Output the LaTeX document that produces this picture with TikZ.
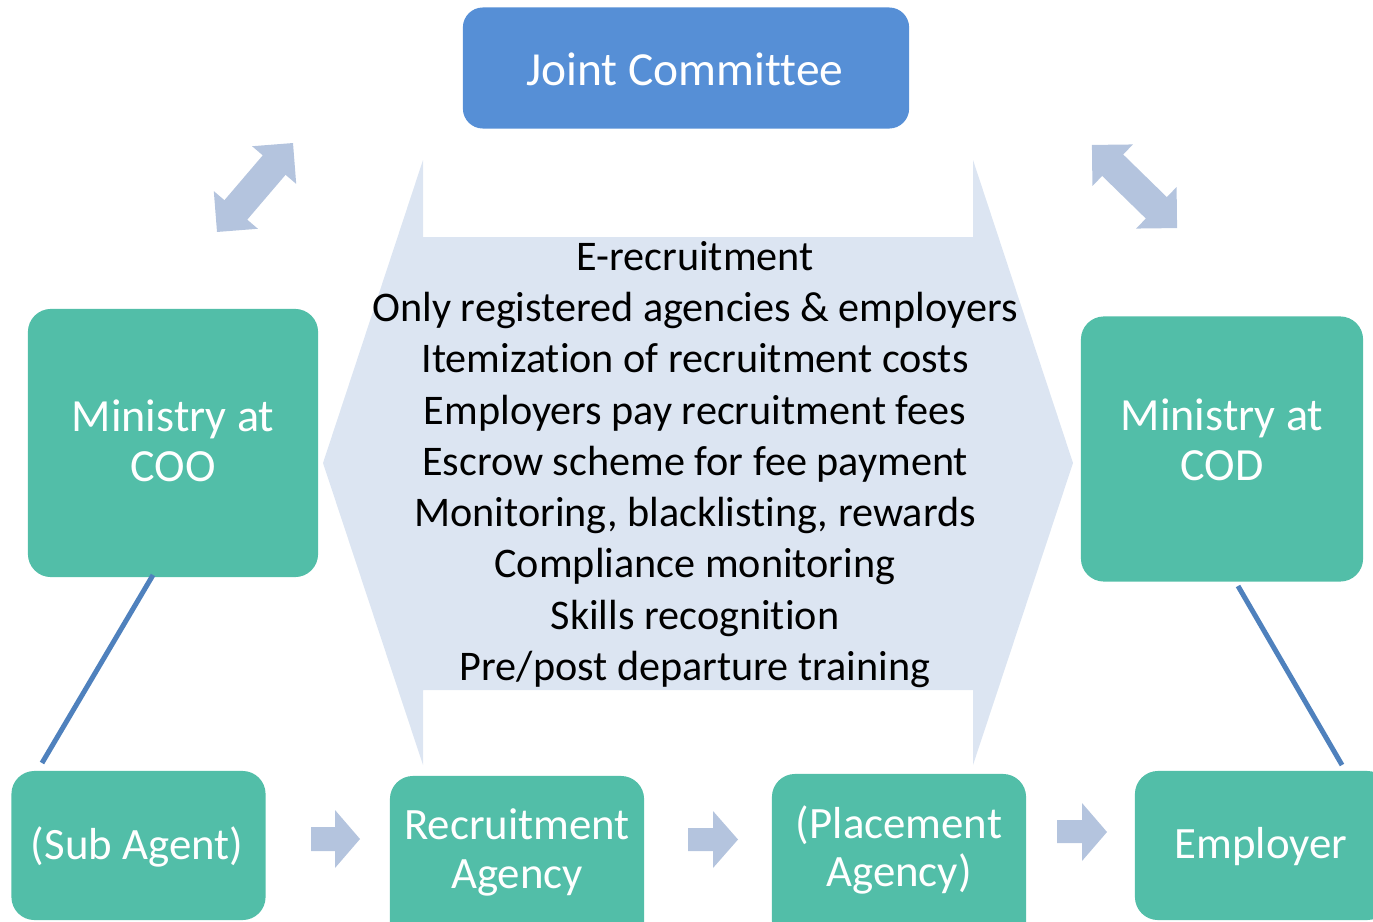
\documentclass[tikz,border=0pt]{standalone}
\usepackage{fontspec}
\setmainfont[Ligatures={NoCommon}]{Carlito}
\definecolor{tealbox}{RGB}{82,190,168}
\definecolor{jcblue}{RGB}{86,143,214}
\definecolor{arrowblue}{RGB}{180,196,222}
\definecolor{hexfill}{RGB}{220,229,242}
\definecolor{linkblue}{RGB}{79,129,189}
\tikzset{
  box/.style={fill=tealbox, draw=none, rounded corners=0.23cm, inner sep=0pt},
  jcbox/.style={fill=jcblue, draw=none, rounded corners=0.2cm, inner sep=0pt},
  boxtext/.style={text=white, align=center, inner sep=0pt, font=\fontsize{13.1}{14.2}\selectfont},
  bottext/.style={text=white, align=center, inner sep=0pt, font=\fontsize{12.75}{13.9}\selectfont},
  midtext/.style={text=black, align=center, inner sep=0pt, font=\fontsize{12}{14.58}\selectfont},
  blockarrow/.style={fill=arrowblue, draw=none},
  link/.style={draw=linkblue, line width=1.42pt}
}
\begin{document}
\begin{tikzpicture}[x=0.01cm,y=-0.01cm]
\useasboundingbox (0,0) rectangle (1373,921);

% central left-right arrow shape
\path[fill=hexfill] (323,463) -- (423,160) -- (423,237) -- (973,237) -- (973,160)
  -- (1073,463) -- (973,765) -- (973,690) -- (423,690) -- (423,765) -- cycle;
\node[midtext] (mid) at (695,464.5) {E-recruitment\\Only registered agencies \& employers\\Itemization of recruitment costs\\Employers pay recruitment fees\\Escrow scheme for fee payment\\Monitoring, blacklisting, rewards\\Compliance monitoring\\Skills recognition\\Pre/post departure training};

% boxes
\node[jcbox, minimum width=4.46cm, minimum height=1.21cm] (jc) at (686,68) {};
\node[boxtext, font=\fontsize{13.5}{14.2}\selectfont] (jct) at (685,69) {Joint Committee};

\node[box, minimum width=2.9cm, minimum height=2.68cm] (coo) at (173,443) {};
\node[boxtext] (coot) at (173,441) {Ministry at\\COO};

\node[box, minimum width=2.82cm, minimum height=2.65cm] (cod) at (1222,449) {};
\node[boxtext] (codt) at (1222,439.5) {Ministry at\\COD};

\node[box, minimum width=2.54cm, minimum height=1.49cm] (sub) at (138.5,845.5) {};
\node[bottext] (subt) at (137,847) {(Sub Agent)};

\node[box, minimum width=2.54cm, minimum height=1.7cm] (rec) at (517,861) {};
\node[bottext] (rect) at (517,852) {Recruitment\\Agency};

\node[box, minimum width=2.54cm, minimum height=1.7cm] (pla) at (899,859) {};
\node[bottext] (plat) at (899,850) {(Placement\\Agency)};

\node[box, minimum width=2.55cm, minimum height=1.49cm] (emp) at (1262.5,845.5) {};
\node[bottext] (empt) at (1261,847) {Employer};

% diagonal double arrows
\begin{scope}[shift={(255,187.5)}, rotate=49.5]
  \path[blockarrow] (-58.5,0) -- (-29.5,29) -- (-29.5,15) -- (29.5,15) -- (29.5,29) -- (58.5,0)
    -- (29.5,-29) -- (29.5,-15) -- (-29.5,-15) -- (-29.5,-29) -- cycle;
\end{scope}
\begin{scope}[shift={(1134.5,186.5)}, rotate=-44.3]
  \path[blockarrow] (-59.5,0) -- (-30.5,29) -- (-30.5,15) -- (30.5,15) -- (30.5,29) -- (59.5,0)
    -- (30.5,-29) -- (30.5,-15) -- (-30.5,-15) -- (-30.5,-29) -- cycle;
\end{scope}

% horizontal block arrows
\path[blockarrow] (311,827) -- (335,827) -- (335,810) -- (360,839) -- (335,868) -- (335,851) -- (311,851) -- cycle;
\path[blockarrow] (688,828) -- (713,828) -- (713,811) -- (738,839.5) -- (713,868) -- (713,851) -- (688,851) -- cycle;
\path[blockarrow] (1057,820) -- (1082,820) -- (1082,803) -- (1107,832) -- (1082,861) -- (1082,843) -- (1057,843) -- cycle;

% links
\coordinate (la) at (153,575);
\coordinate (lb) at (42,763);
\coordinate (ra) at (1238,586);
\coordinate (rb) at (1342,765);
\draw[link] (la) -- (lb);
\draw[link] (ra) -- (rb);
\end{tikzpicture}
\end{document}
